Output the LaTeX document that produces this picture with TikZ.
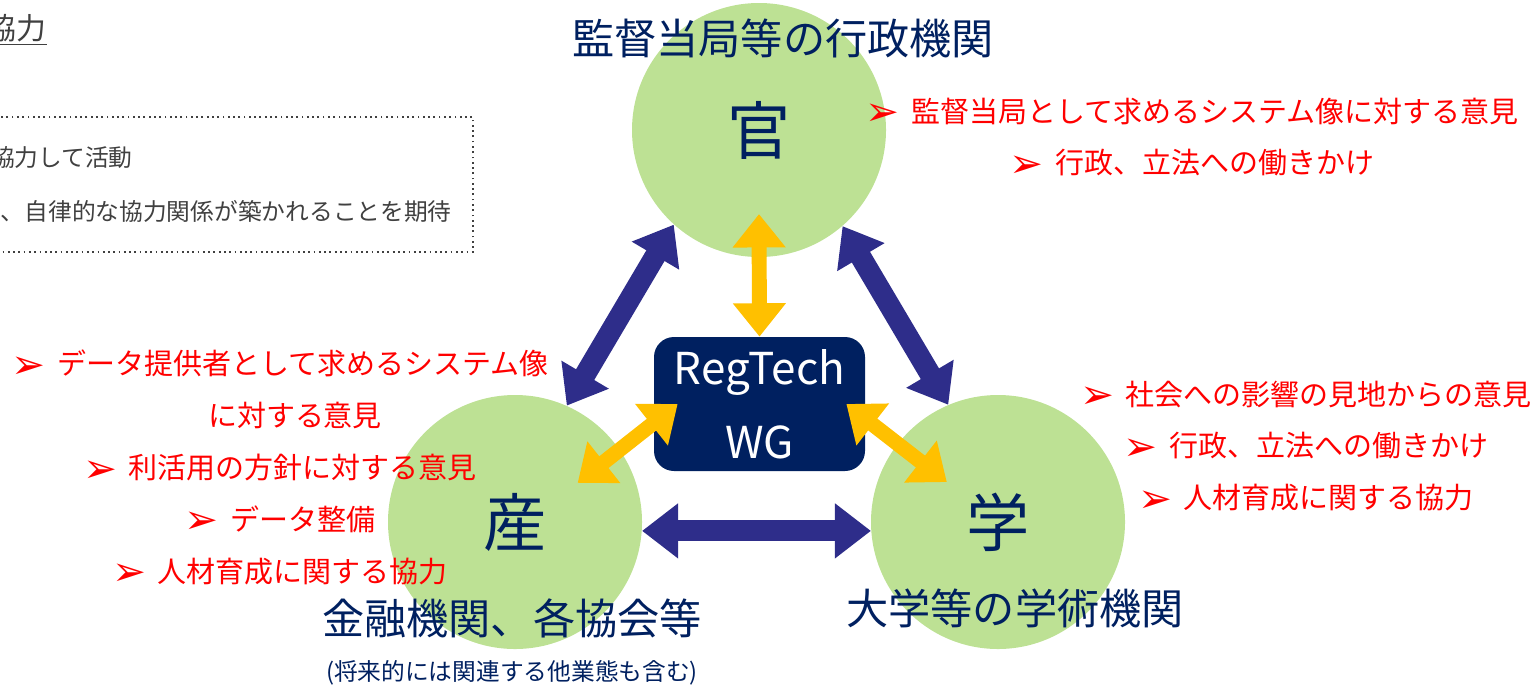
\documentclass[tikz,border=0pt]{standalone}
\usepackage{fontspec}
\setmainfont{Noto Sans CJK JP}
\newfontfamily\bulfont{DejaVu Sans}
\usetikzlibrary{arrows.meta,calc}

\definecolor{circgreen}{RGB}{189,225,148}
\definecolor{navy}{RGB}{0,32,96}
\definecolor{wgyellow}{RGB}{255,192,0}
\definecolor{linkblue}{RGB}{46,45,138}
\definecolor{notegray}{RGB}{64,64,64}

\newcommand{\bul}{\raisebox{-0.12em}{\scalebox{1.4}{\bulfont ➢}}\hspace{0.4em}}

\tikzset{
  sector/.style={circle, fill=circgreen, minimum size=50.8mm, inner sep=0pt, text=navy, font=\fontsize{36}{40}\selectfont},
  title/.style={text=navy, inner sep=0pt, font=\fontsize{24}{28}\selectfont},
  remark/.style={text=red, align=center, inner sep=0pt, font=\fontsize{16.5}{29.5}\selectfont},
  note/.style={anchor=east, text=notegray, inner sep=0pt, font=\fontsize{13.5}{16}\selectfont},
  yarrow/.style={draw=wgyellow, line width=8.5pt, {Triangle[width=29pt,length=19pt]}-{Triangle[width=29pt,length=19pt]}},
  barrow/.style={draw=linkblue, line width=12pt, {Triangle[width=30pt,length=20.5pt]}-{Triangle[width=30pt,length=20.5pt]}},
}

\begin{document}
\begin{tikzpicture}[x=0.2mm, y=-0.2mm]
    \useasboundingbox (0,0) rectangle (1531,686);

    % Note box (cut off at the left)
    \node[note, font=\fontsize{17}{20}\selectfont] (head) at (47,30) {\underline{協力}};
    \draw[notegray, dotted, line width=1pt] (-10,117) rectangle (473,252);
    \node[note] (note1) at (133,158) {協力して活動};
    \node[note] (note2) at (452,211) {、自律的な協力関係が築かれることを期待};

    % Sectors
    \node[sector] (gov) at (759,130) {官};
    \node[sector] (ind) at (515,522) {産};
    \node[sector] (aca) at (998,522) {学};

    % RegTech WG
    \node[fill=navy, rounded corners=4mm, minimum width=42.2mm, minimum height=26.8mm,
          text=white, align=center, font=\fontsize{25}{42}\selectfont] (wg) at (759.5,404) {RegTech\\WG};

    % Links between sectors
    \draw[barrow] (ind.66) -- (gov.228);
    \draw[barrow] (gov.311) -- (aca.113);
    \draw[barrow] (ind.-4.5) -- (aca.184.5);

    % Links to the WG
    \draw[yarrow] ($(gov)!0.66!(gov.south)$) -- (wg.north);
    \draw[yarrow] ($(ind)!0.58!(ind.32)$) -- ($(wg.west)+(24,0)$);
    \draw[yarrow] ($(wg.east)+(-19,0)$) -- ($(aca)!0.51!(aca.142)$);

    % Titles
    \node[title] (govname) at (783,38) {監督当局等の行政機関};
    \node[title] (indname) at (512,618) {金融機関、各協会等};
    \node[text=navy, inner sep=0pt, font=\fontsize{13.5}{16}\selectfont] (indnote) at (512,673) {(将来的には関連する他業態も含む)};
    \node[title] (acaname) at (1015,608) {大学等の学術機関};

    % Remarks
    \node[remark] (govrem) at (1192,137.5) {\bul 監督当局として求めるシステム像に対する意見\\
        \bul 行政、立法への働きかけ};
    \node[remark] (indrem) at (280,468) {\bul データ提供者として求めるシステム像\\
        \hspace*{6mm}に対する意見\\
        \bul 利活用の方針に対する意見\\
        \bul データ整備\\
        \bul 人材育成に関する協力};
    \node[remark] (acarem) at (1306,446.5) {\bul 社会への影響の見地からの意見\\
        \bul 行政、立法への働きかけ\\
        \bul 人材育成に関する協力};
\end{tikzpicture}
\end{document}
